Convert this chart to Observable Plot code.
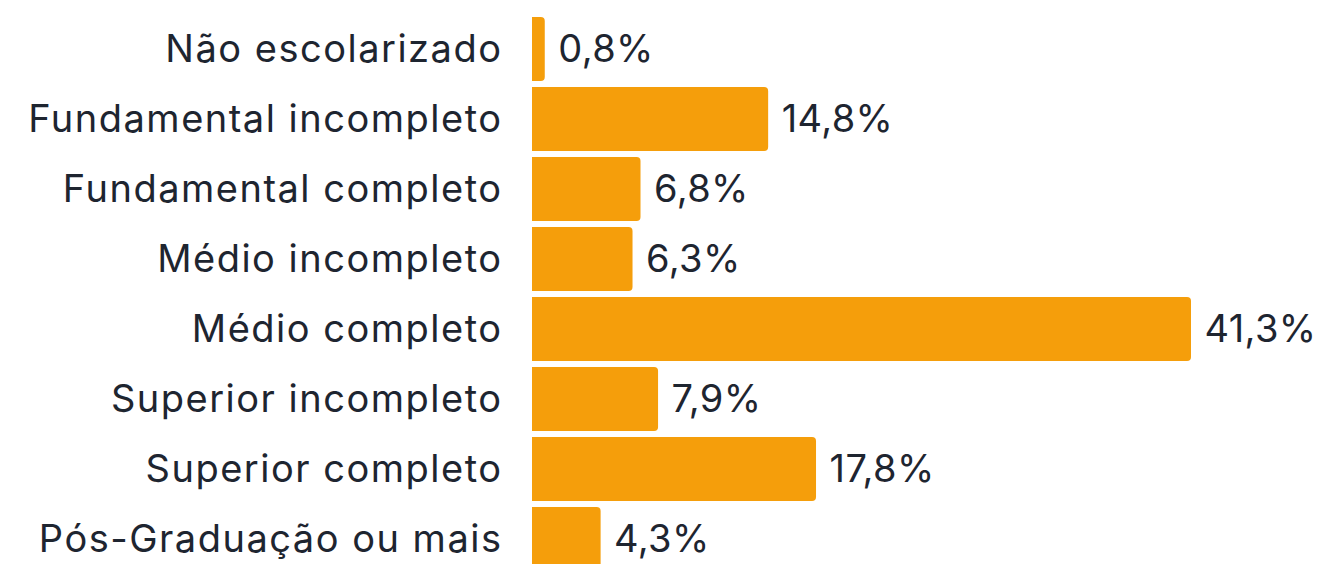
<!DOCTYPE html>
<html>
<head>
<meta charset="utf-8">
<script src="https://cdn.jsdelivr.net/npm/d3@7"></script>
<script src="https://cdn.jsdelivr.net/npm/@observablehq/plot@0.6"></script>
<style>
  html, body { margin: 0; padding: 0; background: #fff; overflow: hidden; }
  svg { display: block; }
  #chart g[aria-label="y-axis tick label"] text { letter-spacing: 1.5px; }
  #chart g[aria-label="text"] text { letter-spacing: 0.4px; }
</style>
</head>
<body>
<div id="chart"></div>
<script>
const categories = [
  "Não escolarizado",
  "Fundamental incompleto",
  "Fundamental completo",
  "Médio incompleto",
  "Médio completo",
  "Superior incompleto",
  "Superior completo",
  "Pós-Graduação ou mais"
];
const values = [0.8, 14.8, 6.8, 6.3, 41.3, 7.9, 17.8, 4.3];

const data = categories.map((c, i) => ({category: c, value: values[i]}));
const fmt = v => v.toFixed(1).replace(".", ",") + "%";

const chart = Plot.plot({
  width: 1322,
  height: 580,
  marginLeft: 532,
  marginRight: 131,
  marginTop: 8,
  marginBottom: 0,
  style: {fontFamily: "Inter, sans-serif", fontSize: "38px", color: "#1e2530", background: "#fff"},
  x: {domain: [0, 41.3], axis: null},
  y: {domain: categories, padding: 0.08, label: null},
  marks: [
    Plot.barX(data, {x: "value", y: "category", fill: "#F59E0B", rx2: 4}),
    Plot.text(data, {x: "value", y: "category", text: d => fmt(d.value), textAnchor: "start", dx: 13, fill: "#1e2530", fontSize: 38}),
    Plot.axisY({tickSize: 0, tickPadding: 30, fontSize: 38, fill: "#1e2530"})
  ]
});
document.getElementById("chart").append(chart);
</script>
</body>
</html>
